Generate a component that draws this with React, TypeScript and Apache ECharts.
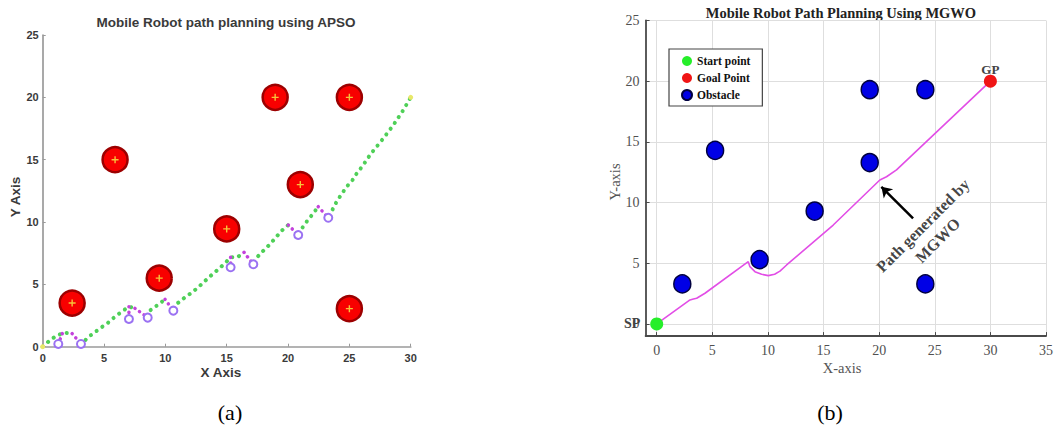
import { useEffect, useRef } from 'react';
import * as echarts from 'echarts';

// ---------- Panel (a): APSO ----------
const apsoXTicks = [0, 5, 10, 15, 20, 25, 30];
const apsoYTicks = [0, 5, 10, 15, 20, 25];
const apsoObstacles = [
  [2.4, 3.5], [5.9, 15], [9.5, 5.5], [15, 9.45],
  [18.95, 20], [21, 13], [25, 20], [25, 3.05],
];
const apsoGreenSegments = [
  [[0, 0], [0.46, 0.4], [1.0, 0.8], [1.68, 1.12], [2.36, 1.07]],
  [[3.5, 0.55], [3.64, 0.72], [4.13, 1.07], [4.67, 1.47], [5.27, 1.87], [5.84, 2.36], [6.44, 2.81], [7.03, 3.21], [7.52, 3.08]],
  [[8.8, 2.94], [9.37, 3.34], [9.97, 3.8]],
  [[11.05, 3.53], [11.6, 3.96], [12.14, 4.33], [12.68, 4.76], [13.23, 5.27], [13.77, 5.75], [14.31, 6.21], [14.86, 6.69], [15.32, 7.17], [15.86, 7.17], [16.41, 7.57]],
  [[17.57, 7.27], [18.04, 7.75], [18.52, 8.21], [19.01, 8.77], [19.48, 9.3], [20.02, 9.76]],
  [[21.19, 9.57], [21.57, 10.1], [22.0, 10.62], [22.46, 11.23]],
  [[23.64, 11.02], [23.96, 11.63], [24.37, 12.25], [24.78, 12.83], [25.26, 13.37], [25.64, 13.96], [26.08, 14.49], [26.49, 15.11], [26.89, 15.64], [27.77, 16.71], [28.59, 17.78], [29.4, 18.98], [30, 20]],
];
const apsoPurpleSegments = [
  [[1.6, 1.05], [1.27, 0.22]],
  [[2.4, 1.05], [3.12, 0.22]],
  [[7.03, 3.21], [7.03, 2.22]],
  [[7.52, 3.08], [8.56, 2.33]],
  [[9.97, 3.8], [10.65, 2.89]],
  [[15.32, 7.17], [15.32, 6.37]],
  [[16.41, 7.57], [17.17, 6.61]],
  [[20.02, 9.76], [20.83, 8.96]],
  [[22.46, 11.23], [23.28, 10.34]],
];
const apsoCircles = apsoPurpleSegments.map((s) => s[1]);
const apsoEnds = [[0, 0], [30, 20]];

// ---------- Panel (b): MGWO ----------
const mgwoXTicks = [0, 5, 10, 15, 20, 25, 30, 35];
const mgwoYTicks = [0, 5, 10, 15, 20, 25];
const mgwoStart = [[0, 0]];
const mgwoGoal = [[30, 20]];
const mgwoObstacles = [
  [2.3, 3.3], [5.25, 14.3], [9.25, 5.3], [14.2, 9.3],
  [19.15, 19.3], [19.15, 13.3], [24.15, 19.3], [24.15, 3.3],
];
const mgwoPath = [
  [0, 0], [2.99, 1.98], [3.3, 2.06], [3.59, 2.12], [4.34, 2.53], [8.23, 5.13],
  [8.38, 4.72], [8.83, 4.31], [9.43, 4.09], [10.03, 3.98], [10.6, 4.1], [11.08, 4.35],
  [11.68, 4.86], [15.87, 8.15], [20.06, 11.86], [20.66, 12.13], [21.56, 12.69], [30, 20],
];
const mgwoArrow = [[23.05, 8.7], [20.2, 11.3]];
const mgwoNote = [[24.6, 7.5]];

const sansFont = '"Liberation Sans", Arial, sans-serif';
const serifFont = '"Liberation Serif", "Times New Roman", serif';
const plusSymbol = 'path://M4,0h2v4h4v2h-4v4h-2v-4h-4v-2h4z';

function txt(text: string, x: number, y: number, o: any = {}) {
  return {
    type: 'text', x, y, rotation: o.rotation || 0, silent: true,
    style: {
      text,
      fontSize: o.fontSize || 13,
      fontWeight: o.fontWeight || 'normal',
      fontFamily: o.fontFamily || sansFont,
      fill: o.fill || '#333',
      align: 'center', textAlign: 'center',
      verticalAlign: 'middle', textVerticalAlign: 'middle',
    },
  };
}

const axisA = (isX: boolean) => ({
  gridIndex: 0, type: 'value', min: 0, max: isX ? 30 : 25, interval: 5,
  axisLine: { show: true, onZero: false, lineStyle: { color: '#9a9a9a', width: 1.7 } },
  axisTick: { show: true, inside: true, length: 3, lineStyle: { color: '#9a9a9a' } },
  axisLabel: {
    color: '#3a3a3a', fontSize: 11, fontWeight: 'bold', fontFamily: sansFont, margin: isX ? 6 : 4,
    customValues: isX ? apsoXTicks : apsoYTicks,
  },
  splitLine: { show: false },
});

const axisB = (isX: boolean) => ({
  gridIndex: 1, type: 'value', min: -1, max: isX ? 35 : 25,
  splitNumber: isX ? 8 : 6, minInterval: 5, maxInterval: 5,
  axisLine: { show: true, onZero: false, lineStyle: { color: '#4a4a4a', width: 1.8 } },
  axisTick: { show: true, inside: true, length: 4, customValues: isX ? mgwoXTicks : mgwoYTicks, lineStyle: { color: '#4a4a4a' } },
  axisLabel: {
    color: '#505050', fontSize: 14, fontFamily: serifFont, margin: isX ? 7 : 6,
    customValues: isX ? mgwoXTicks : mgwoYTicks,
  },
  splitLine: { show: true, lineStyle: { color: '#dedede', width: 1 } },
});

const option: any = {
  animation: false,
  backgroundColor: '#fff',
  grid: [
    { left: 42.7, top: 35, width: 368, height: 311.7 },
    { left: 645.6, top: 20.5, width: 400.7, height: 315.6 },
  ],
  xAxis: [axisA(true), axisB(true)],
  yAxis: [axisA(false), axisB(false)],
  legend: {
    data: ['Start point', 'Goal Point', 'Obstacle'],
    orient: 'vertical', left: 669, top: 49,
    padding: [5, 12, 4, 12], itemGap: 3, itemWidth: 10, itemHeight: 10,
    icon: 'circle', borderColor: '#444', borderWidth: 1.2, backgroundColor: '#fff',
    textStyle: { fontFamily: serifFont, fontWeight: 'bold', fontSize: 11.5, color: '#111', lineHeight: 14 },
    selectedMode: false,
  },
  graphic: [
    txt('Mobile Robot path planning using APSO', 226, 22, { fontSize: 13.5, fontWeight: 'bold', fill: '#3a3a3a' }),
    txt('X Axis', 221, 372, { fontSize: 13.5, fontWeight: 'bold', fill: '#3a3a3a' }),
    txt('Y Axis', 15, 197, { fontSize: 13.5, fontWeight: 'bold', fill: '#3a3a3a', rotation: Math.PI / 2 }),
    txt('Mobile Robot Path Planning Using MGWO', 841, 12.5, { fontSize: 14.5, fontWeight: 'bold', fontFamily: serifFont, fill: '#222' }),
    txt('X-axis', 842, 368, { fontSize: 14.5, fontFamily: serifFont, fill: '#555' }),
    txt('Y-axis', 615, 182, { fontSize: 14.5, fontFamily: serifFont, fill: '#555', rotation: Math.PI / 2 }),
    txt('(a)', 230, 412, { fontSize: 22, fontFamily: serifFont, fill: '#000' }),
    txt('(b)', 830, 412, { fontSize: 22, fontFamily: serifFont, fill: '#000' }),
  ],
  series: [
    ...apsoGreenSegments.map((seg) => ({
      type: 'line', xAxisIndex: 0, yAxisIndex: 0, data: seg, symbol: 'none', silent: true, z: 3,
      lineStyle: { color: '#4fd058', width: 4, type: [0.1, 7], cap: 'round' },
    })),
    ...apsoPurpleSegments.map((seg) => ({
      type: 'line', xAxisIndex: 0, yAxisIndex: 0, data: seg, symbol: 'none', silent: true, z: 3,
      lineStyle: { color: '#c342dc', width: 3.5, type: [0.1, 5.5], cap: 'round' },
    })),
    {
      type: 'scatter', xAxisIndex: 0, yAxisIndex: 0, data: apsoCircles, symbol: 'emptyCircle', symbolSize: 8,
      itemStyle: { color: '#9b72f2', borderWidth: 1.3, opacity: 1 }, z: 4, silent: true,
    },
    {
      type: 'scatter', xAxisIndex: 0, yAxisIndex: 0, data: apsoEnds, symbolSize: 5,
      itemStyle: { color: '#e8e86a', opacity: 1 }, z: 4, silent: true,
    },
    {
      type: 'scatter', xAxisIndex: 0, yAxisIndex: 0, data: apsoObstacles, symbolSize: 25,
      itemStyle: { color: '#f80000', borderColor: '#9c0000', borderWidth: 2.5, opacity: 1 }, z: 5, silent: true,
    },
    {
      type: 'scatter', xAxisIndex: 0, yAxisIndex: 0, data: apsoObstacles, symbol: plusSymbol, symbolSize: 7,
      itemStyle: { color: '#f6c23a', opacity: 1 }, z: 6, silent: true,
    },
    // ---- panel (b)
    {
      type: 'line', xAxisIndex: 1, yAxisIndex: 1, data: mgwoPath, symbol: 'none', silent: true, z: 3,
      lineStyle: { color: '#e24ee6', width: 1.6 },
      markLine: {
        silent: true, symbol: ['none', 'arrow'], symbolSize: 10,
        lineStyle: { color: '#000', width: 2.5, type: 'solid' },
        label: { show: false },
        data: [[{ coord: mgwoArrow[0] }, { coord: mgwoArrow[1] }]],
      },
    },
    {
      name: 'Obstacle', type: 'scatter', xAxisIndex: 1, yAxisIndex: 1, data: mgwoObstacles, symbolSize: [17, 18],
      itemStyle: { color: '#0000e6', borderColor: '#000040', borderWidth: 1.5, opacity: 1 }, z: 5, silent: true,
    },
    {
      name: 'Start point', type: 'scatter', xAxisIndex: 1, yAxisIndex: 1, data: mgwoStart, symbolSize: 13,
      itemStyle: { color: '#26ee2a', opacity: 1 }, z: 6, silent: true,
      label: { show: true, formatter: 'SP', position: 'left', distance: 10, fontFamily: serifFont, fontWeight: 'bold', fontSize: 14, color: '#444' },
    },
    {
      name: 'Goal Point', type: 'scatter', xAxisIndex: 1, yAxisIndex: 1, data: mgwoGoal, symbolSize: 13,
      itemStyle: { color: '#f01515', opacity: 1 }, z: 6, silent: true,
      label: { show: true, formatter: 'GP', position: 'top', distance: -1, fontFamily: serifFont, fontWeight: 'bold', fontSize: 13, color: '#444' },
    },
    {
      type: 'scatter', xAxisIndex: 1, yAxisIndex: 1, data: mgwoNote, symbolSize: 0, z: 7, silent: true,
      itemStyle: { color: 'transparent' },
      label: {
        show: true, position: 'inside', rotate: 45, formatter: 'Path generated by\nMGWO',
        fontFamily: serifFont, fontWeight: 'bold', fontSize: 16, lineHeight: 21, color: '#111',
        align: 'center', verticalAlign: 'middle',
      },
    },
  ],
};

export default function App() {
  const ref = useRef<HTMLDivElement>(null);
  useEffect(() => {
    const chart = echarts.init(ref.current!, undefined, { renderer: 'svg' });
    chart.setOption(option);
    return () => chart.dispose();
  }, []);
  return (
    <div
      ref={ref}
      style={{ position: 'absolute', left: 0, top: 0, width: 1056, height: 430, background: '#fff' }}
    />
  );
}
